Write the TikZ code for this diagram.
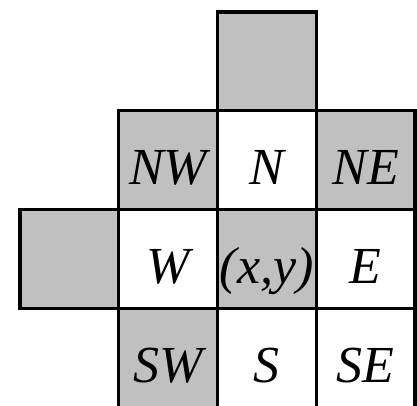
\documentclass[tikz,border=0pt]{standalone}
\usepackage{fontspec}
\setmainfont{Liberation Serif}
\definecolor{cellgray}{RGB}{192,192,192}
\tikzset{
  cell/.style={draw=black, line width=2.5pt, minimum width=74.06pt, minimum height=74.06pt,
    inner sep=0pt, outer sep=0pt, font=\fontsize{39}{42}\selectfont\itshape,
    text height=36.9pt, text depth=0pt},
  shaded/.style={cell, fill=cellgray},
  plain/.style={cell, fill=white},
  % the lowest row runs past the lower edge of the picture
  lowrow/.style={minimum height=76.5pt, text height=34.5pt},
}
\begin{document}
\begin{tikzpicture}[x=0.75pt,y=-0.75pt]
  \useasboundingbox (0,0) rectangle (417,405);
  \clip (0,0) rectangle (417,405);
  % top row
  \node[shaded] (nn)  at (266.875,61.375)  {};
  % second row
  \node[shaded] (nw)  at (168.125,160.125) {NW};
  \node[plain]  (n)   at (266.875,160.125) {N};
  \node[shaded] (ne)  at (365.625,160.125) {NE};
  % third row
  \node[shaded] (ww)  at (69.375,258.875)  {};
  \node[plain]  (w)   at (168.125,258.875) {W};
  \node[shaded] (c)   at (266.875,258.875) {(x,y)};
  \node[plain]  (e)   at (365.625,258.875) {E};
  % bottom row
  \node[shaded,lowrow] (sw)  at (168.125,359.25) {SW};
  \node[plain,lowrow]  (s)   at (266.875,359.25) {S};
  \node[plain,lowrow]  (se)  at (365.625,359.25) {SE};
\end{tikzpicture}
\end{document}
